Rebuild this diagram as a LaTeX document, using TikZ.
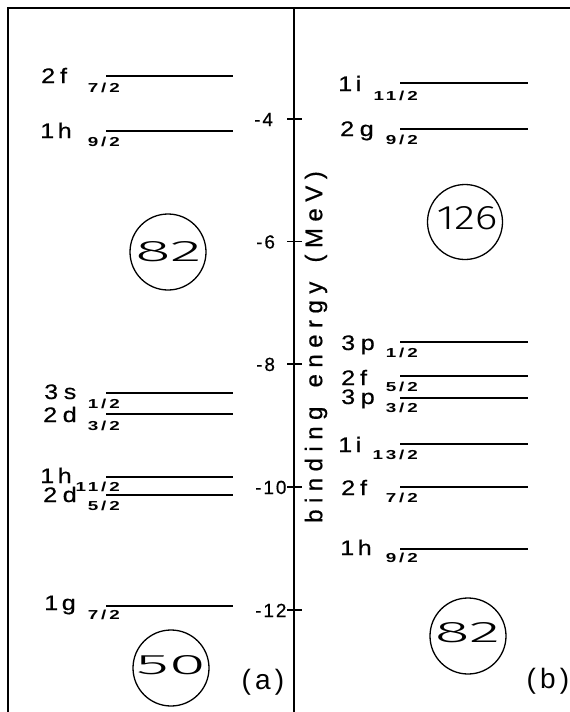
\documentclass[tikz,border=0pt]{standalone}
\usepackage{graphicx}
\usepackage{fontspec}
\setmainfont{Liberation Sans}
\newfontfamily\lvfont{Liberation Sans}[LetterSpace=22,FakeBold=0.5]
\newfontfamily\subfont{Liberation Sans}[LetterSpace=15]
\newfontfamily\tkfont{Liberation Sans}[LetterSpace=10,FakeBold=0.4]
\newfontfamily\axfont{Liberation Sans}[LetterSpace=27,FakeBold=0.6]
\newfontfamily\panfont{Liberation Sans}[LetterSpace=15]
\IfFontExistsTF{Fira Sans Light}
  {\newfontfamily\thinfont{Fira Sans Light}}
  {\IfFontExistsTF{Fira Sans ExtraLight}
     {\newfontfamily\thinfont{Fira Sans ExtraLight}}
     {\newfontfamily\thinfont{Liberation Sans}}}
\newcommand{\mlab}[1]{\scalebox{1.2}[1]{\fontsize{21}{21}\lvfont #1}}
\newcommand{\slab}[1]{\scalebox{1.45}[1]{\fontsize{13}{13}\subfont\bfseries #1}}
\newcommand{\magic}[3]{\resizebox{#1}{#2}{\fontsize{30}{30}\thinfont #3}}
\begin{document}
\begin{tikzpicture}[x=1pt,y=-1pt,
  frame/.style={line width=1.7pt},
  levline/.style={line width=1.3pt},
  ring/.style={circle,draw,line width=1.3pt,inner sep=0pt},
  lab/.style={inner sep=0pt,anchor=base west},
  sublab/.style={inner sep=0pt,anchor=north east},
  ticklab/.style={inner sep=0pt,anchor=base west,font=\fontsize{19}{19}\tkfont},
  tickmark/.style={line width=1.3pt},
  numtext/.style={inner sep=0pt},
]
\useasboundingbox (0,0) rectangle (570,712);
% frame and axis
\draw[frame] (8,712) -- (8,8) -- (570,8);
\draw[frame] (294,8) -- (294,712);
% ticks
\foreach \yy in {119,241.5,364,487,610}{
  \draw[tickmark] (287,\yy) -- (302,\yy);
}
\node[ticklab] (t4) at (254,126) {-4};
\node[ticklab] (t6) at (256,248.5) {-6};
\node[ticklab] (t8) at (256,371) {-8};
\node[ticklab] (t10) at (255,494) {-10};
\node[ticklab] (t12) at (255,617) {-12};
\node[rotate=90,inner sep=0pt,font=\fontsize{24}{24}\axfont] (axlab) at (316,347) {binding\hspace{6pt} energy\hspace{6pt} (MeV)};
% left panel levels
\draw[levline] (106,76) -- (233,76);
\node[lab] (a1) at (41,83) {\mlab{2\hspace{4pt}f}};  \node[sublab] (a1s) at (120,83) {\slab{7/2}};
\draw[levline] (106,131) -- (233,131);
\node[lab] (a2) at (40,138) {\mlab{1\hspace{3pt}h}};  \node[sublab] (a2s) at (120,137) {\slab{9/2}};
\draw[levline] (106,393) -- (233,393);
\node[lab] (a3) at (44,399) {\mlab{3s}};  \node[sublab] (a3s) at (120,399) {\slab{1/2}};
\draw[levline] (106,414) -- (233,414);
\node[lab] (a4) at (43,422) {\mlab{2d}};  \node[sublab] (a4s) at (120,421) {\slab{3/2}};
\draw[levline] (106,477) -- (233,477);
\node[lab] (a5) at (40,483) {\mlab{1\hspace{3pt}h}};  \node[sublab] (a5s) at (120,482) {\slab{11/2}};
\draw[levline] (106,495) -- (233,495);
\node[lab] (a6) at (43,502) {\mlab{2d}};  \node[sublab] (a6s) at (120,501) {\slab{5/2}};
\draw[levline] (106,606) -- (233,606);
\node[lab] (a7) at (44,610) {\mlab{1\hspace{3pt}g}};  \node[sublab] (a7s) at (120,610) {\slab{7/2}};
% right panel levels
\draw[levline] (400,83) -- (528,83);
\node[lab] (b1) at (338,91) {\mlab{1\hspace{3pt}i}};  \node[sublab] (b1s) at (418,91) {\slab{11/2}};
\draw[levline] (400,129) -- (528,129);
\node[lab] (b2) at (340,136) {\mlab{2g}};  \node[sublab] (b2s) at (418,135) {\slab{9/2}};
\draw[levline] (400,342) -- (528,342);
\node[lab] (b3) at (341,350) {\mlab{3p}};  \node[sublab] (b3s) at (418,348) {\slab{1/2}};
\draw[levline] (400,376) -- (528,376);
\node[lab] (b4) at (341,385) {\mlab{2\hspace{4pt}f}};  \node[sublab] (b4s) at (418,382) {\slab{5/2}};
\draw[levline] (400,398) -- (528,398);
\node[lab] (b5) at (341,404) {\mlab{3p}};  \node[sublab] (b5s) at (418,403) {\slab{3/2}};
\draw[levline] (400,444) -- (528,444);
\node[lab] (b6) at (338,452) {\mlab{1\hspace{3pt}i}};  \node[sublab] (b6s) at (418,450) {\slab{13/2}};
\draw[levline] (400,487) -- (528,487);
\node[lab] (b7) at (341,495) {\mlab{2\hspace{4pt}f}};  \node[sublab] (b7s) at (418,493) {\slab{7/2}};
\draw[levline] (400,549) -- (528,549);
\node[lab] (b8) at (340,555) {\mlab{1\hspace{3pt}h}};  \node[sublab] (b8s) at (418,553) {\slab{9/2}};
% magic numbers
\node[ring,minimum size=76pt] (c82a) at (168,252) {};
\node[numtext] (n82a) at (168.5,252) {\magic{66pt}{20pt}{82}};
\node[ring,minimum size=75pt] (c126) at (465,222) {};
\node[numtext] (n126) at (467,218.5) {\magic{61pt}{23pt}{126}};
\node[ring,minimum size=76pt] (c50) at (171,668) {};
\node[numtext] (n50) at (171,665) {\magic{70pt}{19pt}{50}};
\node[ring,minimum size=76pt] (c82b) at (468,636) {};
\node[numtext] (n82b) at (467.5,633) {\magic{65pt}{20pt}{82}};
% panel labels
\node[inner sep=0pt,font=\fontsize{28}{28}\panfont] (pa) at (263,682) {(a)};
\node[inner sep=0pt,font=\fontsize{28}{28}\panfont] (pb) at (548,681) {(b)};
\end{tikzpicture}
\end{document}
